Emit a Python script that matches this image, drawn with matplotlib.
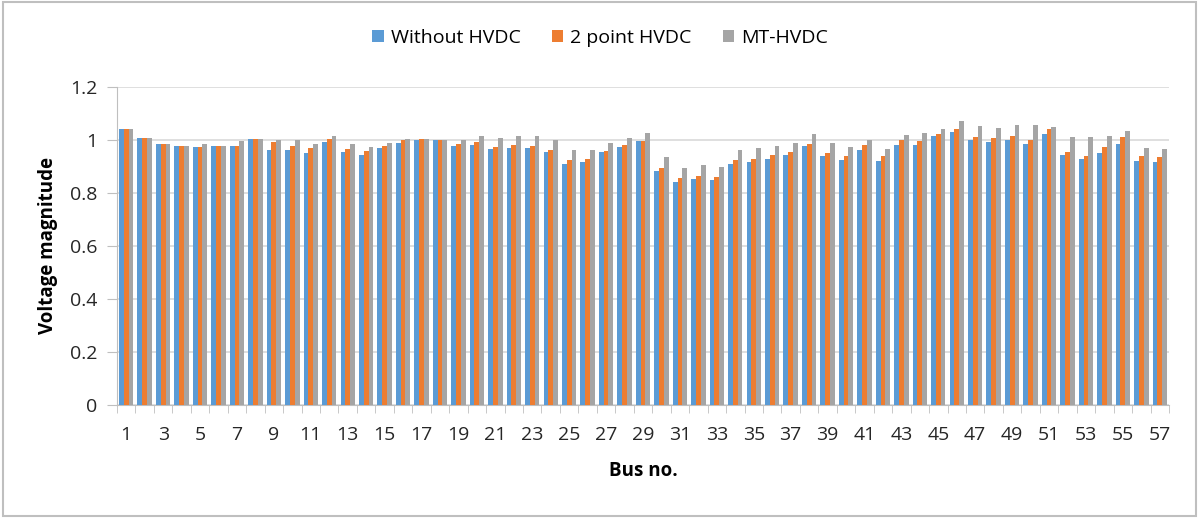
import numpy as np
import matplotlib.pyplot as plt
from matplotlib.patches import Rectangle
from matplotlib.ticker import FixedLocator

plt.rcParams['font.family'] = ['Open Sans', 'DejaVu Sans']

buses = list(range(1, 58))

# voltage magnitude per bus
without_hvdc = [1.04, 1.008, 0.985, 0.977, 0.973, 0.977, 0.977, 1.005, 0.963, 0.961,
                0.951, 0.991, 0.954, 0.944, 0.971, 0.989, 1.0, 1.0, 0.977, 0.982,
                0.965, 0.968, 0.968, 0.954, 0.910, 0.918, 0.954, 0.975, 0.996, 0.884,
                0.843, 0.853, 0.849, 0.908, 0.918, 0.928, 0.942, 0.976, 0.938, 0.924,
                0.962, 0.922, 0.982, 0.982, 1.016, 1.030, 1.0, 0.992, 1.0, 0.986,
                1.023, 0.944, 0.928, 0.952, 0.986, 0.922, 0.918]
two_point = [1.04, 1.008, 0.985, 0.977, 0.973, 0.977, 0.977, 1.005, 0.991, 0.977,
             0.970, 1.005, 0.967, 0.957, 0.977, 1.0, 1.003, 1.0, 0.986, 0.991,
             0.975, 0.982, 0.978, 0.962, 0.924, 0.927, 0.958, 0.980, 0.996, 0.896,
             0.856, 0.866, 0.862, 0.924, 0.930, 0.944, 0.954, 0.986, 0.952, 0.941,
             0.982, 0.941, 1.0, 0.995, 1.023, 1.043, 1.013, 1.006, 1.016, 1.0,
             1.043, 0.954, 0.941, 0.972, 1.013, 0.941, 0.934]
mt_hvdc = [1.04, 1.008, 0.985, 0.977, 0.985, 0.977, 0.995, 1.005, 1.0, 1.0,
           0.985, 1.015, 0.985, 0.973, 0.989, 1.005, 1.005, 1.0, 1.0, 1.016,
           1.009, 1.016, 1.016, 1.0, 0.962, 0.962, 0.989, 1.009, 1.027, 0.934,
           0.894, 0.904, 0.900, 0.962, 0.968, 0.978, 0.989, 1.023, 0.989, 0.975,
           1.0, 0.965, 1.020, 1.027, 1.043, 1.073, 1.053, 1.047, 1.057, 1.057,
           1.049, 1.013, 1.013, 1.016, 1.033, 0.968, 0.965]

series = [("Without HVDC", without_hvdc, "#5B9BD5"),
          ("2 point HVDC", two_point, "#ED7D31"),
          ("MT-HVDC", mt_hvdc, "#A5A5A5")]

fig = plt.figure(figsize=(12, 5.22), dpi=100)
ax = fig.add_axes([117 / 1200, 1 - 405 / 522, 1052 / 1200, 318 / 522])

x = np.arange(len(buses))
w = 0.26
for i, (name, vals, col) in enumerate(series):
    ax.bar(x + (i - 1) * w, vals, width=w, color=col, label=name, zorder=3)

ax.set_xlim(-0.5, len(buses) - 0.5)
ax.set_ylim(0, 1.2)
ax.set_yticks(np.arange(0, 1.21, 0.2))
ax.set_yticklabels(["0", "0.2", "0.4", "0.6", "0.8", "1", "1.2"])
ax.set_xticks(x[::2])
ax.set_xticklabels([str(b) for b in buses[::2]])
ax.xaxis.set_minor_locator(FixedLocator(np.arange(-0.5, len(buses), 1)))
ax.tick_params(axis='x', which='major', length=0, pad=15, labelsize=14, colors='#262626')
ax.tick_params(axis='x', which='minor', length=6, color='#BFBFBF')
ax.tick_params(axis='y', length=7, color='#BFBFBF', pad=7, labelsize=14, labelcolor='#262626')

ax.grid(axis='y', color='#D9D9D9', linewidth=1.2, zorder=0)
for s in ['top', 'right']:
    ax.spines[s].set_visible(False)
ax.spines['left'].set_color('#BFBFBF')
ax.spines['bottom'].set_color('#BFBFBF')

ax.set_ylabel("Voltage magnitude", fontsize=13.5, fontweight='bold', labelpad=9)
ax.set_xlabel("Bus no.", fontsize=13.5, fontweight='bold', labelpad=12)

fig.legend(loc='center', bbox_to_anchor=(0.5, 1 - 38 / 522), ncol=3, frameon=False,
           fontsize=14, handlelength=0.6, handleheight=0.6, handletextpad=0.35,
           columnspacing=1.6)

fig.patches.append(Rectangle((3 / 1200, 1 - 516 / 522), 1193 / 1200, 514 / 522,
                             transform=fig.transFigure, fill=False,
                             edgecolor='#BFBFBF', linewidth=1.5))

fig.savefig("out.png", dpi=100)
